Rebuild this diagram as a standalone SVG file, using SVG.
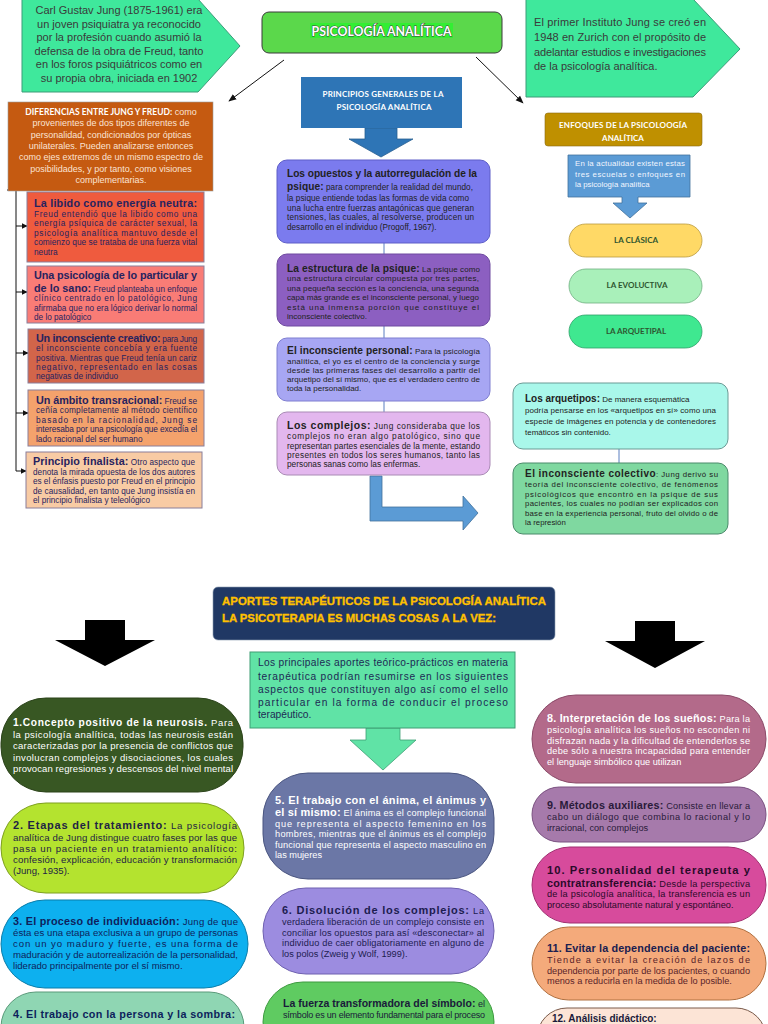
<svg xmlns="http://www.w3.org/2000/svg" width="768" height="1024" viewBox="0 0 768 1024">
<defs>
<style>
text{font-family:"Liberation Sans",Arial,sans-serif}
.b{font-weight:bold}
.c{font-family:Lato,"Liberation Sans",sans-serif;font-weight:bold}
.ln{fill:none;stroke:#111;stroke-width:1}
.vl{fill:none;stroke:#5b7fc0;stroke-width:1}
</style>
<marker id="ah" viewBox="0 0 10 10" refX="9" refY="5" markerWidth="8" markerHeight="8" orient="auto" markerUnits="userSpaceOnUse"><path d="M0,1 L10,5 L0,9 Z" fill="#111"/></marker>
<marker id="ah2" viewBox="0 0 10 10" refX="9" refY="5" markerWidth="6" markerHeight="6" orient="auto" markerUnits="userSpaceOnUse"><path d="M0,0 L10,5 L0,10 Z" fill="#111"/></marker>
</defs>
<rect width="768" height="1024" fill="#fff"/>

<g id="connectors">
<line class="ln" x1="284" y1="60" x2="229" y2="101" marker-end="url(#ah)"/>
<line class="ln" x1="476" y1="57" x2="523" y2="103" marker-end="url(#ah)"/>
<polyline class="ln" points="7,190 16,190 16,471"/>
<line class="ln" x1="16" y1="226" x2="27" y2="226" marker-end="url(#ah2)"/>
<line class="ln" x1="16" y1="292" x2="27" y2="292" marker-end="url(#ah2)"/>
<line class="ln" x1="16" y1="353" x2="28" y2="353" marker-end="url(#ah2)"/>
<line class="ln" x1="16" y1="413" x2="28" y2="413" marker-end="url(#ah2)"/>
<line class="ln" x1="16" y1="471" x2="26" y2="471" marker-end="url(#ah2)"/>
<line class="vl" x1="384" y1="243" x2="384" y2="254"/>
<line class="vl" x1="384" y1="326" x2="384" y2="338"/>
<line class="vl" x1="384" y1="401" x2="384" y2="412"/>
<line class="vl" x1="619" y1="449" x2="619" y2="463"/>
<path d="M365,128 H397 V139 H413 L381,157 L349,139 H365 Z" fill="#2E75B6" stroke="#2A5F90" stroke-width="0.8"/>
<path d="M370,476 H382 V507 H463 V496 L478,513 L463,530 V521 H370 Z" fill="#5B9BD5" stroke="#41719C" stroke-width="0.8"/>
<path d="M85,620 H125 V640 H155 L105,666 L55,640 H85 Z" fill="#000"/>
<path d="M635,621 H675 V641 H705 L655,668 L605,641 H635 Z" fill="#000"/>
<path d="M366,728 H400 V740 H416 L383,770 L350,740 H366 Z" fill="#60E3A6" stroke="#3E9E74" stroke-width="0.8"/>
</g>

<g id="jung-intro">
<path d="M22,-1 H198 L240,46 L198,92 H22 Z" fill="#3FE89C" stroke="#3C9C79"/>
<g font-size="11" fill="#3a3a3a" text-anchor="middle">
<text x="119" y="14">Carl Gustav Jung (1875-1961) era</text>
<text x="119" y="27.5">un joven psiquiatra ya reconocido</text>
<text x="119" y="41">por la profesión cuando asumió la</text>
<text x="119" y="54.5">defensa de la obra de Freud, tanto</text>
<text x="119" y="68">en los foros psiquiátricos como en</text>
<text x="119" y="81.5">su propia obra, iniciada en 1902</text>
</g>
</g>

<g id="instituto">
<path d="M526,-1 H693 L740,49 L693,97 H526 Z" fill="#3FE89C" stroke="#3C9C79"/>
<g font-size="11" fill="#3a3a3a">
<text x="534" y="26" textLength="172" lengthAdjust="spacing">El primer Instituto Jung se creó en</text>
<text x="534" y="41" textLength="172" lengthAdjust="spacing">1948 en Zurich con el propósito de</text>
<text x="534" y="56" textLength="172" lengthAdjust="spacing">adelantar estudios e investigaciones</text>
<text x="534" y="70">de la psicología analítica.</text>
</g>
</g>

<g id="title">
<rect x="262" y="12" width="240" height="41" rx="7" fill="#5BD84B" stroke="#3b3b3b"/>
<rect x="310" y="23" width="143" height="15" fill="#33EE33"/>
<text x="381.5" y="35.5" text-anchor="middle" class="c" font-size="13" fill="#fff" stroke="#3a3a3a" stroke-width="0.9" paint-order="stroke" textLength="140" lengthAdjust="spacingAndGlyphs">PSICOLOGÍA ANALÍTICA</text>
</g>

<g id="principios">
<rect x="301" y="77" width="161" height="51" fill="#2E75B6"/>
<text class="c" font-size="8" fill="#fff" text-anchor="middle" x="383" y="97" textLength="121" lengthAdjust="spacing">PRINCIPIOS GENERALES DE LA</text>
<text class="c" font-size="8" fill="#fff" text-anchor="middle" x="384" y="110" textLength="95" lengthAdjust="spacing">PSICOLOGÍA ANALÍTICA</text>
</g>

<g id="opuestos">
<rect x="277" y="160" width="213" height="83" rx="10" fill="#7B7BEE" stroke="#5E5EC8"/>
<g fill="#222" font-size="8.2">
<text x="287" y="176.5" class="b" font-size="10.2" textLength="190" lengthAdjust="spacing">Los opuestos y la autorregulación de la</text>
<text x="287" y="190" textLength="186" lengthAdjust="spacing"><tspan class="b" font-size="10.2">psique:</tspan> para comprender la realidad del mundo,</text>
<text x="287" y="200.5" textLength="182" lengthAdjust="spacing">la psique entiende todas las formas de vida como</text>
<text x="287" y="210.5" textLength="187" lengthAdjust="spacing">una lucha entre fuerzas antagónicas que generan</text>
<text x="287" y="220" textLength="187" lengthAdjust="spacing">tensiones, las cuales, al resolverse, producen un</text>
<text x="287" y="229.5">desarrollo en el individuo (Progoff, 1967).</text>
</g>
</g>

<g id="estructura">
<rect x="277" y="254" width="213" height="72" rx="10" fill="#8C5FC1" stroke="#6E4AA0"/>
<g fill="#222" font-size="8">
<text x="287" y="271.5" textLength="193" lengthAdjust="spacing"><tspan class="b" font-size="10.2">La estructura de la psique:</tspan> La psique como</text>
<text x="287" y="281" textLength="192" lengthAdjust="spacing">una estructura circular compuesta por tres partes,</text>
<text x="287" y="291" textLength="192" lengthAdjust="spacing">una pequeña sección es la conciencia, una segunda</text>
<text x="287" y="300" textLength="192" lengthAdjust="spacing">capa más grande es el inconsciente personal, y luego</text>
<text x="287" y="310" textLength="192" lengthAdjust="spacing">está una inmensa porción que constituye el</text>
<text x="287" y="319">inconsciente colectivo.</text>
</g>
</g>

<g id="inconsciente-personal">
<rect x="277" y="338" width="213" height="63" rx="10" fill="#A7A6F3" stroke="#7F7ED0"/>
<g fill="#222" font-size="8">
<text x="287" y="353.5" textLength="193" lengthAdjust="spacing"><tspan class="b" font-size="10.2">El inconsciente personal:</tspan> Para la psicología</text>
<text x="287" y="364" textLength="193" lengthAdjust="spacing">analítica, el yo es el centro de la conciencia y surge</text>
<text x="287" y="373" textLength="193" lengthAdjust="spacing">desde las primeras fases del desarrollo a partir del</text>
<text x="287" y="382" textLength="193" lengthAdjust="spacing">arquetipo del sí mismo, que es el verdadero centro de</text>
<text x="287" y="391">toda la personalidad.</text>
</g>
</g>

<g id="complejos">
<rect x="277" y="412" width="213" height="63" rx="10" fill="#E3B7EE" stroke="#A98AB5"/>
<g fill="#222" font-size="8.3">
<text x="287" y="428.5" textLength="193" lengthAdjust="spacing"><tspan class="b" font-size="10.5">Los complejos:</tspan>  Jung consideraba que los</text>
<text x="287" y="439" textLength="193" lengthAdjust="spacing">complejos no eran algo patológico, sino que</text>
<text x="287" y="449" textLength="193" lengthAdjust="spacing">representan partes esenciales de la mente, estando</text>
<text x="287" y="457.5" textLength="193" lengthAdjust="spacing">presentes en todos los seres humanos, tanto las</text>
<text x="287" y="466.5">personas sanas como las enfermas.</text>
</g>
</g>

<g id="diferencias">
<rect x="8" y="102" width="205" height="89" fill="#C55A11" stroke="#9a9a9a" stroke-width="0.6"/>
<g fill="#FBE3D3" font-size="9" text-anchor="middle">
<text x="111" y="114.5"><tspan class="c" fill="#fff" font-size="8.5">DIFERENCIAS ENTRE JUNG Y FREUD:</tspan> como</text>
<text x="111" y="126">provenientes de dos tipos diferentes de</text>
<text x="111" y="138">personalidad, condicionados por ópticas</text>
<text x="111" y="149">unilaterales. Pueden analizarse entonces</text>
<text x="111" y="160">como ejes extremos de un mismo espectro de</text>
<text x="111" y="171.5">posibilidades, y por tanto, como visiones</text>
<text x="111" y="183">complementarias.</text>
</g>
</g>

<g id="libido">
<rect x="27" y="192" width="177" height="70" fill="#EF5B3E" stroke="#8a7f9a"/>
<g fill="#27235F" font-size="8.3">
<text x="34" y="206.5" class="b" font-size="10.8" textLength="163" lengthAdjust="spacing">La libido como energía neutra:</text>
<text x="34" y="217" textLength="163" lengthAdjust="spacing">Freud entendió que la libido como una</text>
<text x="34" y="226" textLength="163" lengthAdjust="spacing">energía psíquica de carácter sexual, la</text>
<text x="34" y="235.5" textLength="163" lengthAdjust="spacing">psicología analítica mantuvo desde el</text>
<text x="34" y="245" textLength="163" lengthAdjust="spacing">comienzo que se trataba de una fuerza vital</text>
<text x="34" y="255">neutra</text>
</g>
</g>

<g id="particular">
<rect x="27" y="266" width="177" height="57" fill="#F97C76" stroke="#8a7f9a"/>
<g fill="#27235F" font-size="8.2">
<text x="34" y="278.5" class="b" font-size="10.8" textLength="163" lengthAdjust="spacing">Una psicología de lo particular y</text>
<text x="34" y="291.5" textLength="163" lengthAdjust="spacing"><tspan class="b" font-size="10.8">de lo sano:</tspan> Freud planteaba un enfoque</text>
<text x="34" y="301" textLength="163" lengthAdjust="spacing">clínico centrado en lo patológico, Jung</text>
<text x="34" y="311" textLength="163" lengthAdjust="spacing">afirmaba que no era lógico derivar lo normal</text>
<text x="34" y="320">de lo patológico</text>
</g>
</g>

<g id="creativo">
<rect x="28" y="329" width="176" height="54" fill="#D2654A" stroke="#8a7f9a"/>
<g fill="#27235F" font-size="8.3">
<text x="36" y="341.5" textLength="161" lengthAdjust="spacing"><tspan class="b" font-size="10.8">Un inconsciente creativo:</tspan> para Jung</text>
<text x="36" y="351" textLength="161" lengthAdjust="spacing">el inconsciente concebía y era fuente</text>
<text x="36" y="360.5" textLength="161" lengthAdjust="spacing">positiva. Mientras que Freud tenía un cariz</text>
<text x="36" y="370" textLength="161" lengthAdjust="spacing">negativo, representado en las cosas</text>
<text x="36" y="379">negativas de individuo</text>
</g>
</g>

<g id="transracional">
<rect x="28" y="390" width="176" height="56" fill="#F4A26C" stroke="#8a7f9a"/>
<g fill="#27235F" font-size="8.3">
<text x="36" y="403.5" textLength="161" lengthAdjust="spacing"><tspan class="b" font-size="10.8">Un ámbito transracional:</tspan> Freud se</text>
<text x="36" y="413" textLength="161" lengthAdjust="spacing">ceñía completamente al método científico</text>
<text x="36" y="422.5" textLength="161" lengthAdjust="spacing">basado en la racionalidad, Jung se</text>
<text x="36" y="432" textLength="161" lengthAdjust="spacing">interesaba por una psicología que excedía el</text>
<text x="36" y="442">lado racional del ser humano</text>
</g>
</g>

<g id="finalista">
<rect x="26" y="452" width="176" height="56" fill="#F8CBA4" stroke="#8a7f9a"/>
<g fill="#27235F" font-size="8.2">
<text x="33" y="464.5" textLength="162" lengthAdjust="spacing"><tspan class="b" font-size="10.8">Principio finalista:</tspan> Otro aspecto que</text>
<text x="33" y="474.5" textLength="162" lengthAdjust="spacing">denota la mirada opuesta de los dos autores</text>
<text x="33" y="484" textLength="162" lengthAdjust="spacing">es el énfasis puesto por Freud en el principio</text>
<text x="33" y="493.5" textLength="162" lengthAdjust="spacing">de causalidad, en tanto que Jung insistía en</text>
<text x="33" y="503">el principio finalista y teleológico</text>
</g>
</g>

<g id="enfoques">
<rect x="545" y="113" width="157" height="33" rx="3" fill="#BF9000" stroke="#8a6a10" stroke-width="0.6"/>
<text class="c" font-size="8" fill="#fff" text-anchor="middle" x="623" y="128" textLength="128" lengthAdjust="spacing">ENFOQUES DE LA PSICOLOOGÍA</text>
<text class="c" font-size="8" fill="#fff" text-anchor="middle" x="623" y="141">ANALÍTICA</text>
</g>

<g id="escuelas">
<path d="M568,155 H690 V197 H638 V203 H647 L630,218 L613,203 H622 V197 H568 Z" fill="#5B9BD5" stroke="#41719C" stroke-width="0.8"/>
<g fill="#F2F6FF" font-size="7.8">
<text x="575" y="166" textLength="110" lengthAdjust="spacing">En la actualidad existen estas</text>
<text x="575" y="177" textLength="110" lengthAdjust="spacing">tres escuelas o enfoques en</text>
<text x="575" y="187">la psicología analítica</text>
</g>
</g>

<g id="clasica">
<rect x="569" y="224" width="133" height="33" rx="16.5" fill="#FFD966" stroke="#B99A40" stroke-width="0.8"/>
<text class="c" font-size="8" fill="#2E5630" text-anchor="middle" x="636" y="242.5">LA CLÁSICA</text>
</g>
<g id="evolutiva">
<rect x="569" y="269" width="133" height="34" rx="17" fill="#A9F0BA" stroke="#6FAF80" stroke-width="0.8"/>
<text class="c" font-size="8" fill="#2E5630" text-anchor="middle" x="637" y="288">LA EVOLUCTIVA</text>
</g>
<g id="arquetipal">
<rect x="569" y="315" width="133" height="33" rx="16.5" fill="#3FE890" stroke="#2FA068" stroke-width="0.8"/>
<text class="c" font-size="8" fill="#2E5630" text-anchor="middle" x="636" y="334">LA ARQUETIPAL</text>
</g>

<g id="arquetipos">
<rect x="513" y="383" width="215" height="66" rx="10" fill="#A9F7EA" stroke="#6A9A95"/>
<g fill="#222" font-size="8">
<text x="525" y="401.5"><tspan class="b" font-size="10">Los arquetipos:</tspan> De manera esquemática</text>
<text x="525" y="412.5" textLength="191" lengthAdjust="spacing">podría pensarse en los «arquetipos en sí» como una</text>
<text x="525" y="423.5" textLength="191" lengthAdjust="spacing">especie de imágenes en potencia y de contenedores</text>
<text x="525" y="435">temáticos sin contenido.</text>
</g>
</g>

<g id="colectivo">
<rect x="513" y="463" width="215" height="71" rx="10" fill="#7FD8A0" stroke="#4A8A6A"/>
<g fill="#222" font-size="7.8">
<text x="525" y="477" textLength="193" lengthAdjust="spacing"><tspan class="b" font-size="10">El inconsciente colectivo</tspan>: Jung derivó su</text>
<text x="525" y="487" textLength="193" lengthAdjust="spacing">teoría del inconsciente colectivo, de fenómenos</text>
<text x="525" y="496.5" textLength="193" lengthAdjust="spacing">psicológicos que encontró en la psique de sus</text>
<text x="525" y="506" textLength="193" lengthAdjust="spacing">pacientes, los cuales no podían ser explicados con</text>
<text x="525" y="515.5" textLength="193" lengthAdjust="spacing">base en la experiencia personal, fruto del olvido o de</text>
<text x="525" y="525">la represión</text>
</g>
</g>

<g id="aportes">
<rect x="213" y="587" width="342" height="53" rx="5" fill="#203864" stroke="#8a9ab0" stroke-width="0.6"/>
<text x="222" y="605" class="b" font-size="11" fill="#FFC000" stroke="#FFC000" stroke-width="0.3" textLength="324" lengthAdjust="spacingAndGlyphs">APORTES TERAPÉUTICOS DE LA PSICOLOGÍA ANALÍTICA</text>
<text x="222" y="622" class="b" font-size="11" fill="#FFC000" stroke="#FFC000" stroke-width="0.3" textLength="274" lengthAdjust="spacingAndGlyphs">LA PSICOTERAPIA ES MUCHAS COSAS A LA VEZ:</text>
</g>

<g id="principales">
<rect x="250" y="652" width="265" height="76" fill="#60E3A6" stroke="#3E9E74"/>
<g fill="#1D2A55" font-size="10.2">
<text x="258" y="666" textLength="250" lengthAdjust="spacing">Los principales aportes teórico-prácticos en materia</text>
<text x="258" y="679.5" textLength="250" lengthAdjust="spacing">terapéutica podrían resumirse en los siguientes</text>
<text x="258" y="692.5" textLength="250" lengthAdjust="spacing">aspectos que constituyen algo así como el sello</text>
<text x="258" y="705.5" textLength="250" lengthAdjust="spacing">particular en la forma de conducir el proceso</text>
<text x="258" y="718">terapéutico.</text>
</g>
</g>

<g id="p1">
<rect x="1" y="698" width="242" height="94" rx="45" fill="#385723" stroke="#2A4219"/>
<g fill="#fff" font-size="9.5">
<text x="13" y="726" textLength="220" lengthAdjust="spacing"><tspan class="b" font-size="10.2">1.Concepto positivo de la neurosis.</tspan> Para</text>
<text x="13" y="737.5" textLength="220" lengthAdjust="spacing">la psicología analítica, todas las neurosis están</text>
<text x="13" y="749" textLength="220" lengthAdjust="spacing">caracterizadas por la presencia de conflictos que</text>
<text x="13" y="760.5" textLength="220" lengthAdjust="spacing">involucran complejos y disociaciones, los cuales</text>
<text x="13" y="772" textLength="220" lengthAdjust="spacing">provocan regresiones y descensos del nivel mental</text>
</g>
</g>

<g id="p2">
<rect x="1" y="803" width="243" height="90" rx="45" fill="#B4E32F" stroke="#7FA020"/>
<g fill="#1F2444" font-size="9.6">
<text x="13" y="829" textLength="224" lengthAdjust="spacing"><tspan class="b" font-size="11">2. Etapas del tratamiento:</tspan> La psicología</text>
<text x="13" y="840.5" textLength="224" lengthAdjust="spacing">analítica de Jung distingue cuatro fases por las que</text>
<text x="13" y="851.5" textLength="224" lengthAdjust="spacing">pasa un paciente en un tratamiento analítico:</text>
<text x="13" y="862.5" textLength="224" lengthAdjust="spacing">confesión, explicación, educación y transformación</text>
<text x="13" y="873.5">(Jung, 1935).</text>
</g>
</g>

<g id="p3">
<rect x="1" y="900" width="247" height="88" rx="44" fill="#0DB0EF" stroke="#0A7DAA"/>
<g fill="#0D1F5C" font-size="9.6">
<text x="13" y="925" textLength="225" lengthAdjust="spacing"><tspan class="b" font-size="10.8">3. El proceso de individuación:</tspan> Jung de que</text>
<text x="13" y="936" textLength="225" lengthAdjust="spacing">ésta es una etapa exclusiva a un grupo de personas</text>
<text x="13" y="947" textLength="225" lengthAdjust="spacing">con un yo maduro y fuerte, es una forma de</text>
<text x="13" y="958" textLength="225" lengthAdjust="spacing">maduración y de autorrealización de la personalidad,</text>
<text x="13" y="969">liderado principalmente por el sí mismo.</text>
</g>
</g>

<g id="p4">
<rect x="1" y="992" width="243" height="70" rx="35" fill="#8FD6B3" stroke="#5A9A7A"/>
<text x="13" y="1018" class="b" font-size="10.8" fill="#0D1F5C" textLength="222" lengthAdjust="spacing">4. El trabajo con la persona y la sombra:</text>
</g>

<g id="p5">
<rect x="263" y="773" width="231" height="106" rx="45" fill="#6B77A6" stroke="#4A5580"/>
<g fill="#fff" font-size="9.2">
<text x="275" y="803.5" class="b" font-size="11" textLength="211" lengthAdjust="spacing">5. El trabajo con el ánima, el ánimus y</text>
<text x="275" y="816" textLength="211" lengthAdjust="spacing"><tspan class="b" font-size="11">el sí mismo:</tspan> El ánima es el complejo funcional</text>
<text x="275" y="826.5" textLength="211" lengthAdjust="spacing">que representa el aspecto femenino en los</text>
<text x="275" y="837" textLength="211" lengthAdjust="spacing">hombres, mientras que el ánimus es el complejo</text>
<text x="275" y="847.5" textLength="211" lengthAdjust="spacing">funcional que representa el aspecto masculino en</text>
<text x="275" y="858">las mujeres</text>
</g>
</g>

<g id="p6">
<rect x="263" y="888" width="231" height="86" rx="43" fill="#9C8CE0" stroke="#6E60B0"/>
<g fill="#1C1C50" font-size="9.2">
<text x="282" y="914" textLength="202" lengthAdjust="spacing"><tspan class="b" font-size="11">6. Disolución de los complejos:</tspan> La</text>
<text x="282" y="925" textLength="202" lengthAdjust="spacing">verdadera liberación de un complejo consiste en</text>
<text x="282" y="935.5" textLength="202" lengthAdjust="spacing">conciliar los opuestos para así «desconectar» al</text>
<text x="282" y="946" textLength="202" lengthAdjust="spacing">individuo de caer obligatoriamente en alguno de</text>
<text x="282" y="956.5">los polos (Zweig y Wolf, 1999).</text>
</g>
</g>

<g id="p7">
<rect x="263" y="982" width="231" height="80" rx="40" fill="#5FCB61" stroke="#3E9A40"/>
<g fill="#1A1A3A" font-size="9">
<text x="283" y="1007" textLength="202" lengthAdjust="spacing"><tspan class="b" font-size="10.5">La fuerza transformadora del símbolo:</tspan> el</text>
<text x="283" y="1018" textLength="202" lengthAdjust="spacing">símbolo es un elemento fundamental para el proceso</text>
</g>
</g>

<g id="p8">
<rect x="532" y="695" width="234" height="88" rx="44" fill="#B36A8A" stroke="#8A4A68"/>
<g fill="#fff" font-size="9.2">
<text x="547" y="722" textLength="203" lengthAdjust="spacing"><tspan class="b" font-size="10.8">8. Interpretación de los sueños:</tspan> Para la</text>
<text x="547" y="733" textLength="203" lengthAdjust="spacing">psicología analítica los sueños no esconden ni</text>
<text x="547" y="743.5" textLength="203" lengthAdjust="spacing">disfrazan nada y la dificultad de entenderlos se</text>
<text x="547" y="754" textLength="203" lengthAdjust="spacing">debe sólo a nuestra incapacidad para entender</text>
<text x="547" y="764.5">el lenguaje simbólico que utilizan</text>
</g>
</g>

<g id="p9">
<rect x="532" y="787" width="234" height="55" rx="27.5" fill="#A67AAB" stroke="#7A5080"/>
<g fill="#2A1A3A" font-size="9.2">
<text x="547" y="809" textLength="203" lengthAdjust="spacing"><tspan class="b" font-size="10.8">9. Métodos auxiliares:</tspan> Consiste en llevar a</text>
<text x="547" y="820" textLength="203" lengthAdjust="spacing">cabo un diálogo que combina lo racional y lo</text>
<text x="547" y="830.5">irracional, con complejos</text>
</g>
</g>

<g id="p10">
<rect x="532" y="847" width="234" height="76" rx="38" fill="#D74B9C" stroke="#A02E70"/>
<g fill="#2A0A2A" font-size="9.2">
<text x="547" y="874" class="b" font-size="11.2" textLength="203" lengthAdjust="spacing">10. Personalidad del terapeuta y</text>
<text x="547" y="886.5" textLength="203" lengthAdjust="spacing"><tspan class="b" font-size="10.8">contratransferencia:</tspan> Desde la perspectiva</text>
<text x="547" y="897" textLength="203" lengthAdjust="spacing">de la psicología analítica, la transferencia es un</text>
<text x="547" y="907.5">proceso absolutamente natural y espontáneo.</text>
</g>
</g>

<g id="p11">
<rect x="532" y="927" width="234" height="73" rx="36.5" fill="#F4AA7B" stroke="#B07040"/>
<g fill="#5A1F2A" font-size="9.2">
<text x="547" y="952" class="b" font-size="10.8" fill="#1A2050" textLength="203" lengthAdjust="spacing">11. Evitar la dependencia del paciente:</text>
<text x="547" y="963" textLength="203" lengthAdjust="spacing">Tiende a evitar la creación de lazos de</text>
<text x="547" y="973.5" textLength="203" lengthAdjust="spacing">dependencia por parte de los pacientes, o cuando</text>
<text x="547" y="984">menos a reducirla en la medida de lo posible.</text>
</g>
</g>

<g id="p12">
<rect x="537" y="1008" width="229" height="60" rx="30" fill="#FCE4D6" stroke="#7A5A4A"/>
<text x="552" y="1021.5" class="b" font-size="10" fill="#1A1A3A">12. Análisis didáctico:</text>
</g>
</svg>
